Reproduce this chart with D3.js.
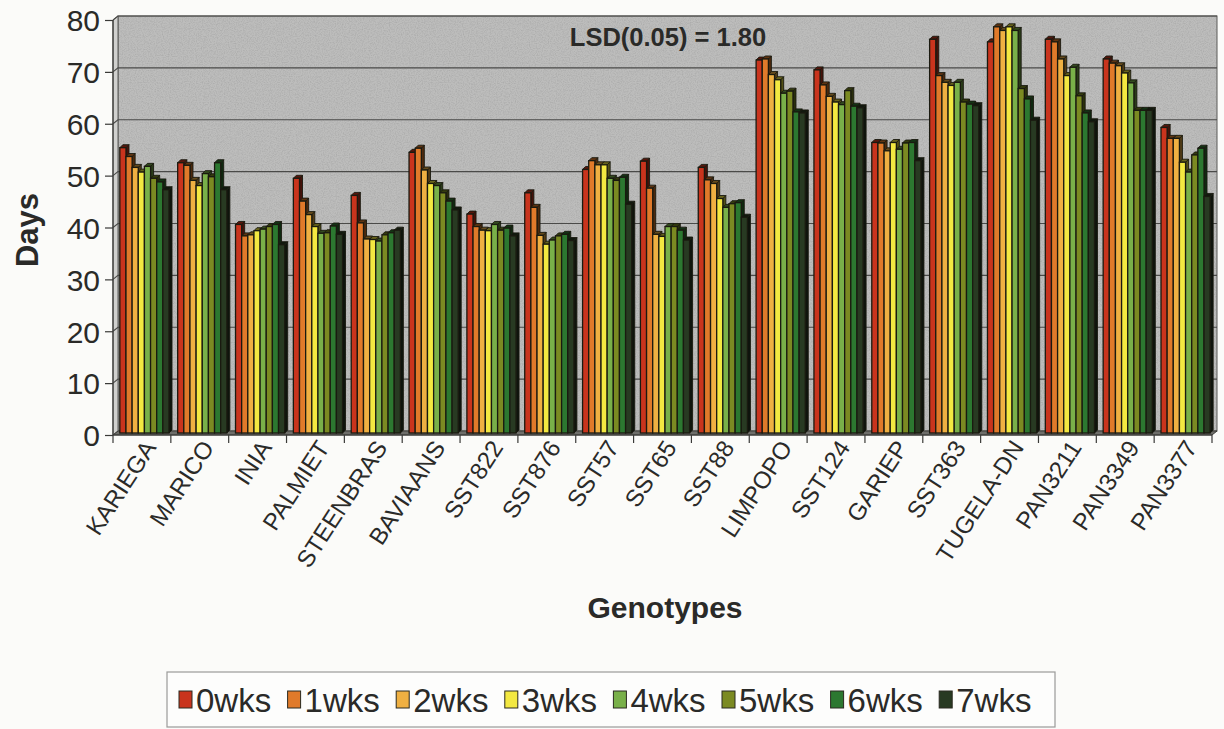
<!DOCTYPE html>
<html>
<head>
<meta charset="utf-8">
<script src="https://cdn.jsdelivr.net/npm/d3@7/dist/d3.min.js"></script>
<style>
  html, body { margin: 0; padding: 0; background: #fbfbf9; }
  svg { display: block; font-family: "Liberation Sans", Arial, sans-serif; }
</style>
</head>
<body>
<svg id="chart" width="1224" height="729"></svg>
<script>
// Genotypes along the x axis
const genotypes = ["KARIEGA", "MARICO", "INIA", "PALMIET", "STEENBRAS", "BAVIAANS",
  "SST822", "SST876", "SST57", "SST65", "SST88", "LIMPOPO", "SST124", "GARIEP",
  "SST363", "TUGELA-DN", "PAN3211", "PAN3349", "PAN3377"];

// Storage periods (series)
const series = ["0wks", "1wks", "2wks", "3wks", "4wks", "5wks", "6wks", "7wks"];
const seriesColors = ["#c9341d", "#e07a2a", "#efb042", "#f3e841", "#79b049", "#7b8a22", "#2c7830", "#283a22"];

// Days per genotype, one value per storage period (0wks..7wks)
const kariega   = [55.0, 53.3, 51.2, 50.3, 51.4, 49.1, 48.4, 46.9];
const marico    = [52.1, 51.6, 48.7, 47.7, 50.0, 49.4, 52.1, 46.9];
const inia      = [40.2, 38.0, 38.2, 39.0, 39.3, 39.8, 40.2, 36.3];
const palmiet   = [49.1, 44.7, 42.1, 39.8, 38.5, 38.6, 39.9, 38.3];
const steenbras = [45.8, 40.5, 37.4, 37.3, 37.0, 38.2, 38.6, 39.1];
const baviaans  = [54.1, 54.9, 50.7, 48.1, 47.7, 46.3, 44.7, 43.0];
const sst822    = [42.2, 39.8, 39.1, 39.0, 40.2, 39.1, 39.5, 38.0];
const sst876    = [46.3, 43.5, 38.1, 36.4, 37.2, 38.0, 38.3, 37.1];
const sst57     = [50.8, 52.5, 51.7, 51.7, 49.1, 48.7, 49.3, 44.1];
const sst65     = [52.4, 47.2, 38.3, 37.9, 39.8, 39.8, 39.1, 37.2];
const sst88     = [51.2, 48.8, 48.1, 45.2, 43.5, 44.2, 44.4, 41.6];
const limpopo   = [71.9, 72.1, 69.1, 68.1, 65.5, 65.9, 61.9, 61.7];
const sst124    = [70.0, 67.1, 64.9, 63.8, 63.3, 66.0, 63.0, 62.7];
const gariep    = [56.0, 55.9, 54.4, 56.0, 54.7, 55.9, 56.0, 52.5];
const sst363    = [75.9, 68.9, 67.6, 67.0, 67.6, 63.8, 63.4, 63.1];
const tugela    = [75.4, 78.3, 77.6, 78.3, 77.6, 66.4, 64.4, 60.3];
const pan3211   = [75.9, 75.4, 72.1, 68.9, 70.5, 65.0, 61.7, 60.0];
const pan3349   = [72.1, 71.3, 70.8, 69.4, 67.5, 62.2, 62.2, 62.2];
const pan3377   = [58.9, 56.8, 56.8, 52.2, 50.3, 53.6, 54.9, 45.6];

const values = [kariega, marico, inia, palmiet, steenbras, baviaans, sst822, sst876,
  sst57, sst65, sst88, limpopo, sst124, gariep, sst363, tugela, pan3211, pan3349, pan3377];

// Y axis ticks
const yTicks = [0, 10, 20, 30, 40, 50, 60, 70, 80];

const lsdLabel = "LSD(0.05) = 1.80";

// ---- layout ----
const svg = d3.select("#chart");
const plotLeft = 113, plotRight = 1212, plotTop = 20, plotBottom = 435;
const wallDx = 5, wallDy = -4;     // offset of back wall (3-D depth)
const barDx = 2.5, barDy = -2;     // bars sit slightly behind the front plane
const depth = 3;                   // visible depth of each column

const y = d3.scaleLinear().domain([0, 80]).range([plotBottom, plotTop]);
const x0 = d3.scaleBand().domain(genotypes).range([plotLeft, plotRight])
  .paddingInner(0.15).paddingOuter(0.075);
const x1 = d3.scaleBand().domain(series).range([0, x0.bandwidth()]);
const color = d3.scaleOrdinal().domain(series).range(seriesColors);

// Fine grain texture for the wall
const defs = svg.append("defs");
const grain = defs.append("filter").attr("id", "grain")
  .attr("x", 0).attr("y", 0).attr("width", 1).attr("height", 1);
grain.append("feTurbulence").attr("type", "fractalNoise")
  .attr("baseFrequency", 0.85).attr("numOctaves", 2).attr("seed", 7).attr("result", "noise");
grain.append("feColorMatrix").attr("in", "noise").attr("type", "matrix")
  .attr("values", "0 0 0 0 0.25  0 0 0 0 0.25  0 0 0 0 0.25  0 0 0 -1.1 0.68");
grain.append("feComposite").attr("in2", "SourceGraphic").attr("operator", "in");

// Back wall
svg.append("rect")
  .attr("x", plotLeft + wallDx).attr("y", y(80) + wallDy)
  .attr("width", plotRight - plotLeft).attr("height", plotBottom - plotTop)
  .attr("fill", "#bdbdbc");
svg.append("rect")
  .attr("x", plotLeft + wallDx).attr("y", y(80) + wallDy)
  .attr("width", plotRight - plotLeft).attr("height", plotBottom - plotTop)
  .attr("fill", "#bdbdbc").attr("filter", "url(#grain)").attr("opacity", 0.6);
svg.append("rect")
  .attr("x", plotLeft + wallDx).attr("y", y(80) + wallDy)
  .attr("width", plotRight - plotLeft).attr("height", plotBottom - plotTop)
  .attr("fill", "none").attr("stroke", "#5a5a58").attr("stroke-width", 1);

// Side wall
svg.append("polygon")
  .attr("points", [[plotLeft, y(80)], [plotLeft + wallDx, y(80) + wallDy], [plotLeft + wallDx, plotBottom + wallDy], [plotLeft, plotBottom]].join(" "))
  .attr("fill", "#d0d0ce").attr("stroke", "#5a5a58").attr("stroke-width", 1);

// Floor
svg.append("polygon")
  .attr("points", [[plotLeft, plotBottom], [plotLeft + wallDx, plotBottom + wallDy], [plotRight + wallDx, plotBottom + wallDy], [plotRight, plotBottom]].join(" "))
  .attr("fill", "#6e6e6a").attr("stroke", "#3a3a36").attr("stroke-width", 1);

// Gridlines on back and side wall
const grid = svg.append("g").attr("stroke", "#4a4a48").attr("stroke-width", 1.1).attr("fill", "none");
yTicks.filter(t => t > 0).forEach(t => {
  const yy = y(t);
  grid.append("polyline")
    .attr("points", [[plotLeft, yy], [plotLeft + wallDx, yy + wallDy], [plotRight + wallDx, yy + wallDy]].join(" "));
});

// Bars
const barsG = svg.append("g").attr("transform", `translate(${barDx},${barDy})`);
genotypes.forEach((g, gi) => {
  const gx = x0(g);
  series.forEach((s, si) => {
    const v = values[gi][si];
    const bx = gx + x1(s), bw = x1.bandwidth(), by = y(v), b0 = y(0);
    const c = d3.color(color(s));
    const dark = c.darker(2.4);
    // right side face
    barsG.append("polygon")
      .attr("points", [[bx + bw, by], [bx + bw + depth, by - depth], [bx + bw + depth, b0 - depth], [bx + bw, b0]].join(" "))
      .attr("fill", dark.darker(0.6)).attr("stroke", "#1a1a10").attr("stroke-width", 0.9);
    // top face
    barsG.append("polygon")
      .attr("points", [[bx, by], [bx + depth, by - depth], [bx + bw + depth, by - depth], [bx + bw, by]].join(" "))
      .attr("fill", dark).attr("stroke", "#1a1a10").attr("stroke-width", 0.9);
    // front face
    barsG.append("rect")
      .attr("x", bx).attr("y", by).attr("width", bw).attr("height", b0 - by)
      .attr("fill", c).attr("stroke", "#1a1a10").attr("stroke-width", 1.3);
  });
});

// Front axes
const axisCol = "#3a3a38";
svg.append("line").attr("x1", plotLeft).attr("x2", plotLeft).attr("y1", y(80)).attr("y2", plotBottom)
  .attr("stroke", axisCol).attr("stroke-width", 1.2);
svg.append("line").attr("x1", plotLeft).attr("x2", plotRight).attr("y1", plotBottom).attr("y2", plotBottom)
  .attr("stroke", axisCol).attr("stroke-width", 1.2);

// Y axis ticks and labels
const yAxis = d3.axisLeft(y).tickValues(yTicks).tickSize(8).tickPadding(5);
const yg = svg.append("g").attr("transform", `translate(${plotLeft},0)`).call(yAxis);
yg.select(".domain").remove();
yg.selectAll(".tick line").attr("stroke", axisCol).attr("stroke-width", 1.2);
yg.selectAll(".tick text")
  .attr("font-family", "'Liberation Sans', Arial, sans-serif")
  .attr("dy", "0.36em")
  .attr("font-size", 30).attr("fill", "#2a2a28");

// X axis category ticks (at category boundaries)
const step = x0.step();
const xBoundaries = d3.range(genotypes.length + 1).map(i => plotLeft + i * step);
svg.append("g").selectAll("line").data(xBoundaries).join("line")
  .attr("x1", d => d).attr("x2", d => d).attr("y1", plotBottom).attr("y2", plotBottom + 8)
  .attr("stroke", axisCol).attr("stroke-width", 1.2);

// X axis labels (rotated)
svg.append("g").selectAll("text").data(genotypes).join("text")
  .attr("transform", d => `translate(${x0(d) + x0.bandwidth() / 2 + 8},${plotBottom + 8}) rotate(-57)`)
  .attr("text-anchor", "end")
  .attr("dy", "0.35em")
  .attr("font-size", 24).attr("fill", "#2a2a28")
  .text(d => d);

// Axis titles
svg.append("text")
  .attr("transform", `translate(38,230) rotate(-90)`)
  .attr("text-anchor", "middle")
  .attr("font-size", 31).attr("font-weight", "bold").attr("fill", "#2a2a28")
  .text("Days");

svg.append("text")
  .attr("x", 665).attr("y", 618)
  .attr("text-anchor", "middle")
  .attr("font-size", 30).attr("font-weight", "bold").attr("fill", "#2a2a28")
  .text("Genotypes");

// LSD annotation
svg.append("text")
  .attr("x", 668).attr("y", 46)
  .attr("text-anchor", "middle")
  .attr("font-size", 25.5).attr("font-weight", "bold").attr("fill", "#2a2a28")
  .text(lsdLabel);

// Legend
const legend = svg.append("g");
legend.append("rect")
  .attr("x", 167).attr("y", 672).attr("width", 888).attr("height", 55)
  .attr("fill", "#fdfdfc").attr("stroke", "#9a9a98").attr("stroke-width", 1.2);
const legendStep = 108.6;
const items = legend.selectAll("g.item").data(series).join("g")
  .attr("class", "item")
  .attr("transform", (d, i) => `translate(${179 + i * legendStep},0)`);
items.append("rect")
  .attr("x", 0).attr("y", 691).attr("width", 13).attr("height", 17)
  .attr("fill", d => color(d)).attr("stroke", "#2a2a20").attr("stroke-width", 1);
items.append("text")
  .attr("x", 17).attr("y", 712)
  .attr("font-size", 33).attr("fill", "#2a2a28")
  .text(d => d);
</script>
</body>
</html>
